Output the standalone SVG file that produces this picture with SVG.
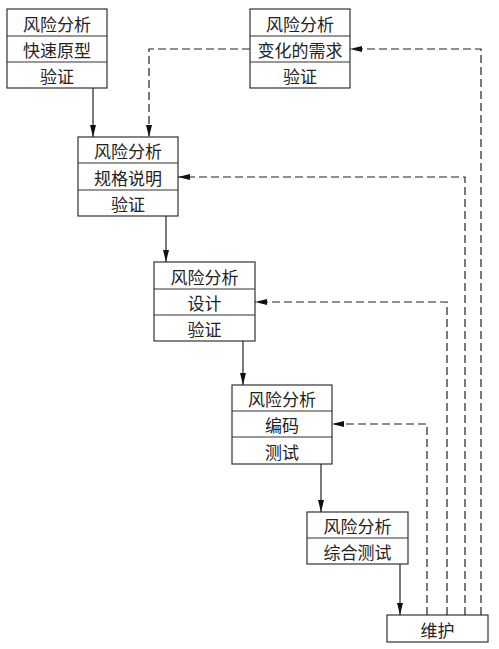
<svg xmlns="http://www.w3.org/2000/svg" width="499" height="649" viewBox="0 0 499 649">
<defs>
<marker id="ah" markerWidth="12" markerHeight="6" refX="12" refY="3" orient="auto" markerUnits="userSpaceOnUse">
<path d="M0,0 L12,3 L0,6 Z" fill="#111"/>
</marker>
<style>
.box{fill:#fff;stroke:#333;stroke-width:1.2}
.div{stroke:#333;stroke-width:1.2}
.t{font-family:"Noto Sans CJK SC","Noto Sans",sans-serif;font-size:17px;fill:#222;text-anchor:middle;dominant-baseline:central}
.c{fill:none;stroke:#222;stroke-width:1.2}
.d{fill:none;stroke:#222;stroke-width:1.2;stroke-dasharray:8,4}
</style>
</defs>
<rect width="499" height="649" fill="#fff"/>
<g id="n1">
<rect class="box" x="7" y="9" width="100" height="79"/>
<line class="div" x1="7" y1="36" x2="107" y2="36"/>
<line class="div" x1="7" y1="62" x2="107" y2="62"/>
<text class="t" x="57" y="23">风险分析</text>
<text class="t" x="57" y="49">快速原型</text>
<text class="t" x="57" y="75">验证</text>
</g>
<g id="n2">
<rect class="box" x="250" y="9" width="100" height="79"/>
<line class="div" x1="250" y1="36" x2="350" y2="36"/>
<line class="div" x1="250" y1="62" x2="350" y2="62"/>
<text class="t" x="300" y="23">风险分析</text>
<text class="t" x="300" y="49">变化的需求</text>
<text class="t" x="300" y="75">验证</text>
</g>
<g id="n3">
<rect class="box" x="78" y="137" width="100" height="79"/>
<line class="div" x1="78" y1="163" x2="178" y2="163"/>
<line class="div" x1="78" y1="190" x2="178" y2="190"/>
<text class="t" x="128" y="150">风险分析</text>
<text class="t" x="128" y="177">规格说明</text>
<text class="t" x="128" y="203">验证</text>
</g>
<g id="n4">
<rect class="box" x="154" y="262" width="101" height="79"/>
<line class="div" x1="154" y1="289" x2="255" y2="289"/>
<line class="div" x1="154" y1="315" x2="255" y2="315"/>
<text class="t" x="204.5" y="276">风险分析</text>
<text class="t" x="204.5" y="302">设计</text>
<text class="t" x="204.5" y="328">验证</text>
</g>
<g id="n5">
<rect class="box" x="232" y="385" width="100" height="79"/>
<line class="div" x1="232" y1="411" x2="332" y2="411"/>
<line class="div" x1="232" y1="437" x2="332" y2="437"/>
<text class="t" x="282" y="398">风险分析</text>
<text class="t" x="282" y="424">编码</text>
<text class="t" x="282" y="451">测试</text>
</g>
<g id="n6">
<rect class="box" x="307" y="512" width="101" height="52"/>
<line class="div" x1="307" y1="538" x2="408" y2="538"/>
<text class="t" x="357.5" y="525">风险分析</text>
<text class="t" x="357.5" y="551">综合测试</text>
</g>
<g id="n7">
<rect class="box" x="387" y="615" width="101" height="27"/>
<text class="t" x="437.5" y="629">维护</text>
</g>
<g id="connectors">
<line class="c" x1="93" y1="88" x2="93" y2="137" marker-end="url(#ah)"/>
<line class="c" x1="166" y1="216" x2="166" y2="262" marker-end="url(#ah)"/>
<line class="c" x1="243" y1="341" x2="243" y2="385" marker-end="url(#ah)"/>
<line class="c" x1="321" y1="464" x2="321" y2="512" marker-end="url(#ah)"/>
<line class="c" x1="400" y1="564" x2="400" y2="615" marker-end="url(#ah)"/>
<path class="d" d="M250,49 H149 V137" marker-end="url(#ah)"/>
<path class="d" d="M481,615 V49 H350" marker-end="url(#ah)"/>
<path class="d" d="M465,615 V177 H178" marker-end="url(#ah)"/>
<path class="d" d="M447,615 V302 H255" marker-end="url(#ah)"/>
<path class="d" d="M427,615 V424 H332" marker-end="url(#ah)"/>
</g>
</svg>
